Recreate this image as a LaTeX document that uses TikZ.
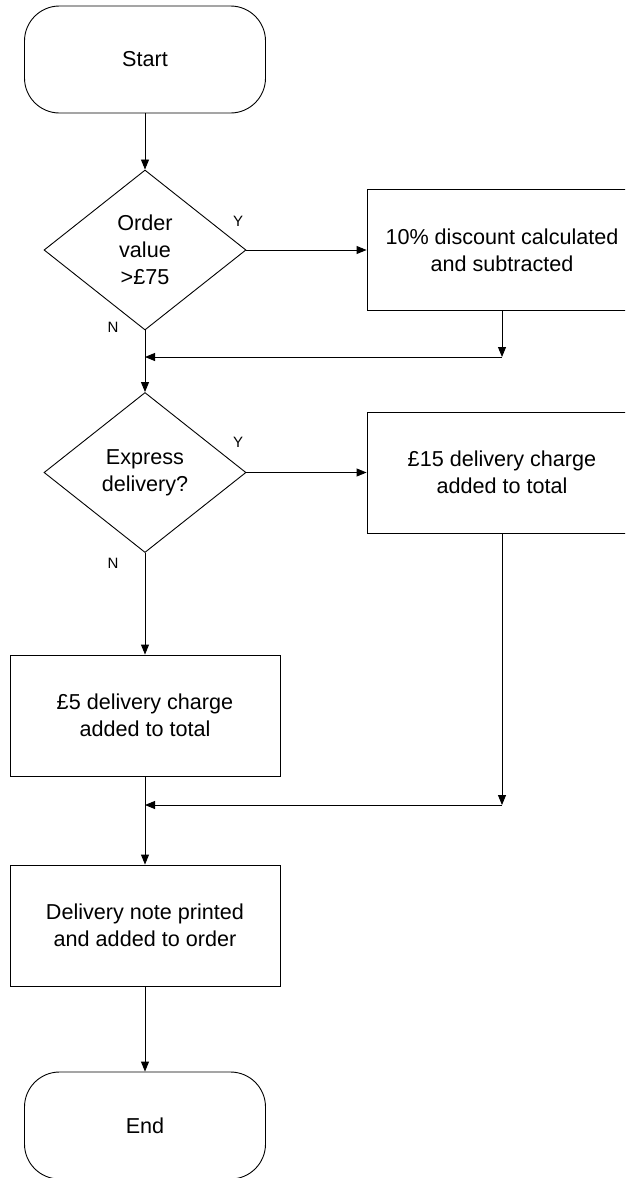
\documentclass[tikz,border=0pt]{standalone}
\usepackage{fontspec}
\setmainfont{Liberation Sans}
\usetikzlibrary{shapes.geometric,arrows.meta}

\begin{document}
\begin{tikzpicture}[x=1pt, y=-1pt, line width=0.9pt, >={Triangle[length=10pt,width=8pt]},
  terminal/.style={draw, rounded corners=35pt, minimum width=241pt, minimum height=107pt, font=\fontsize{21.6}{27}\selectfont},
  process/.style={draw, minimum width=270pt, minimum height=121pt, align=center, font=\fontsize{21.6}{27}\selectfont},
  decision/.style={draw, diamond, minimum width=202pt, minimum height=160pt, inner sep=0pt, align=center, font=\fontsize{21.6}{27}\selectfont},
  answer/.style={font=\fontsize{15}{18}\selectfont}]
% Cadre de l'image (les boites de droite et la fin sont coupees)
\useasboundingbox (0,0) rectangle (625,1178);
\clip (0,0) rectangle (625,1178);

% Les noeuds du diagramme
\node[terminal] (start) at (145,59.5) {Start};
\node[decision] (order) at (145,250) {Order\\value\\>£75};
\node[process] (discount) at (502,250) {10\% discount calculated\\and subtracted};
\node[decision] (express) at (145,472.5) {Express\\delivery?};
\node[process] (fifteen) at (502,472.5) {£15 delivery charge\\added to total};
\node[process] (five) at (145,715.5) {£5 delivery charge\\added to total};
\node[process] (note) at (145,925.5) {Delivery note printed\\and added to order};
\node[terminal] (end) at (145,1125.5) {End};

% Les reponses des tests
\node[answer] (y1) at (238,221) {Y};
\node[answer] (n1) at (113,327) {N};
\node[answer] (y2) at (238,442) {Y};
\node[answer] (n2) at (113,563) {N};

% Points de retour vers la ligne principale
\coordinate (m1) at (502,357);
\coordinate (j1) at (145,357);
\coordinate (m2) at (502,805);
\coordinate (j2) at (145,805);

% Les fleches
\draw[->] (start) -- (order);
\draw[->] (order) -- (discount);
\draw[->] (discount) -- (m1);
\draw[->] (m1) -- (j1);
\draw[->] (order) -- (express);
\draw[->] (express) -- (fifteen);
\draw[->] (fifteen) -- (m2);
\draw[->] (m2) -- (j2);
\draw[->] (express) -- (five);
\draw[->] (five) -- (note);
\draw[->] (note) -- (end);
\end{tikzpicture}
\end{document}
